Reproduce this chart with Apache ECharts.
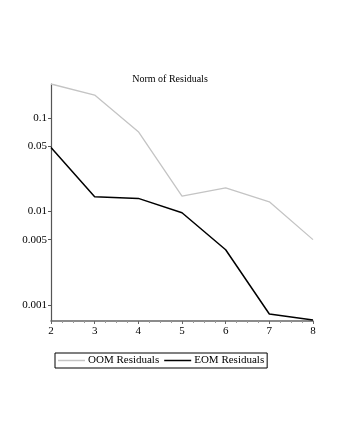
<!DOCTYPE html>
<html>
<head>
<meta charset="utf-8">
<script src="https://cdn.jsdelivr.net/npm/echarts@6/dist/echarts.min.js"></script>
<style>
  html, body { margin: 0; padding: 0; background: #fff; }
  #chart { width: 340px; height: 440px; }
</style>
</head>
<body>
<div id="chart"></div>
<script>
// order of the model
const orders = [2, 3, 4, 5, 6, 7, 8]
const oomResiduals = [0.231, 0.176, 0.0714, 0.0146, 0.0179, 0.0127, 0.0050]
const eomResiduals = [0.0484, 0.0144, 0.0138, 0.0097, 0.0039, 0.00080, 0.00069]
const yTicks = [0.001, 0.005, 0.01, 0.05, 0.1]

const font = 'Liberation Serif, Times New Roman, serif'
const chart = echarts.init(document.getElementById('chart'))

chart.setOption({
  animation: false,
  title: {
    text: 'Norm of Residuals',
    left: 165, top: 69, textAlign: 'center',
    textStyle: { fontFamily: font, fontSize: 10, fontWeight: 'normal', color: '#000' }
  },
  legend: {
    bottom: 72, left: 55,
    padding: [2, 3, 2, 3],
    borderColor: '#000', borderWidth: 1,
    icon: 'rect', itemWidth: 27, itemHeight: 1.5, itemGap: 5,
    textStyle: { fontFamily: font, fontSize: 11, color: '#000', padding: [0, 0, 0, -2] },
    data: ['OOM Residuals', 'EOM Residuals']
  },
  grid: { left: 51, right: 27, top: 84, bottom: 119 },
  xAxis: {
    type: 'value', min: 2, max: 8, interval: 1,
    axisLine: { lineStyle: { color: '#666', width: 1.5 } },
    axisTick: { length: 3, lineStyle: { color: '#666' } },
    minorTick: { show: true, splitNumber: 4, length: 2, lineStyle: { color: '#999' } },
    splitLine: { show: false },
    axisLabel: { fontFamily: font, fontSize: 11, color: '#000', margin: 5 }
  },
  yAxis: {
    type: 'log', logBase: 10, min: 0.000674, max: 0.231,
    axisLine: { show: true, lineStyle: { color: '#555', width: 1.2 } },
    axisTick: { show: true, length: 3, customValues: yTicks, lineStyle: { color: '#555' } },
    splitLine: { show: false },
    axisLabel: {
      fontFamily: font, fontSize: 11, color: '#000', margin: 4,
      customValues: yTicks,
      formatter: v => String(+v.toPrecision(3))
    }
  },
  series: [
    {
      name: 'OOM Residuals', type: 'line', symbol: 'none',
      lineStyle: { color: '#c4c4c4', width: 1.3 }, itemStyle: { color: '#c4c4c4' },
      data: orders.map((x, i) => [x, oomResiduals[i]])
    },
    {
      name: 'EOM Residuals', type: 'line', symbol: 'none',
      lineStyle: { color: '#000', width: 1.5 }, itemStyle: { color: '#000' },
      data: orders.map((x, i) => [x, eomResiduals[i]])
    }
  ]
})
</script>
</body>
</html>
